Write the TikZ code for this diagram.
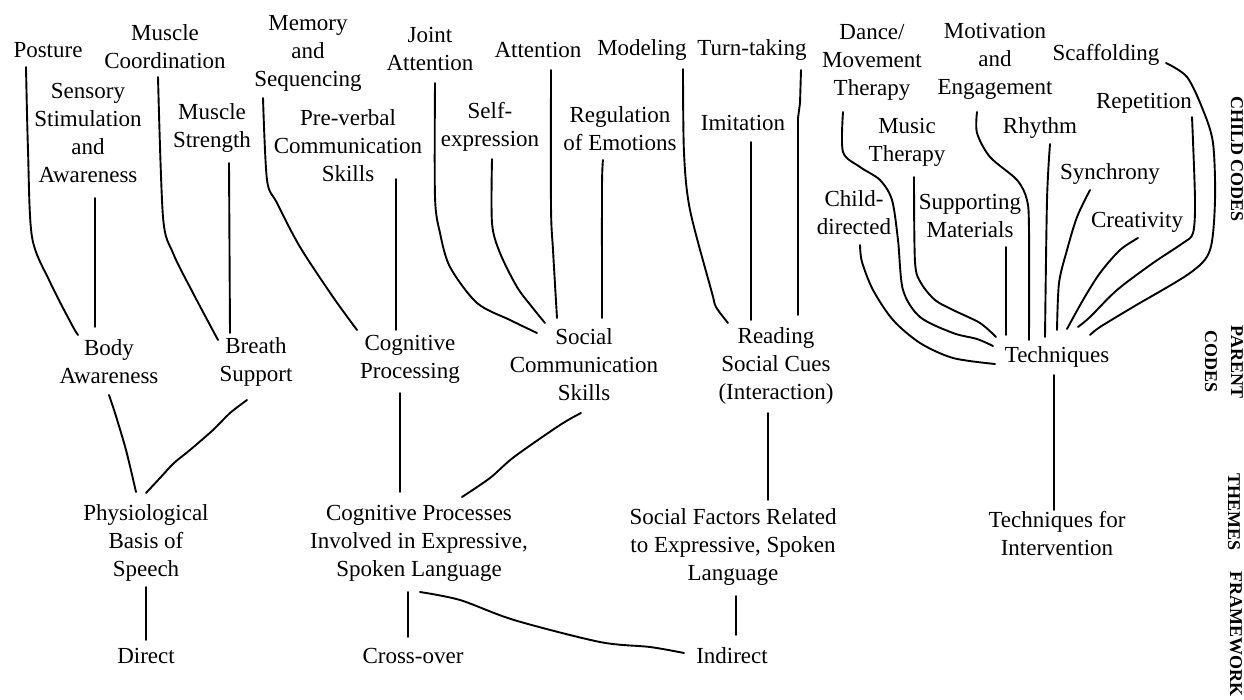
\documentclass[tikz,border=0pt]{standalone}
\usepackage{fontspec}
\setmainfont{Liberation Serif}
\newcommand\lblfont{\fontsize{23}{28}\selectfont}
\newcommand\sidefont{\fontsize{18}{26}\selectfont\bfseries}
\tikzset{
  lbl/.style={align=center, font=\lblfont, inner sep=0pt},
  side/.style={align=center, font=\sidefont, inner sep=0pt, rotate=-90},
  conn/.style={line width=1.9pt, line cap=round, line join=round},
}
\begin{document}
\begin{tikzpicture}[x=1pt,y=-1pt]
\useasboundingbox (0,0) rectangle (1244,700);
% ---------- child codes ----------
\node[lbl] (posture) at (48,50) {Posture};
\node[lbl] (mcoord) at (165,47) {Muscle\\Coordination};
\node[lbl] (sensory) at (88,133) {Sensory\\Stimulation\\and\\Awareness};
\node[lbl] (mstrength) at (212,128) {Muscle\\Strength};
\node[lbl] (memory) at (308,53) {Memory\\and\\Sequencing};
\node[lbl] (preverbal) at (348,146) {Pre-verbal\\Communication\\Skills};
\node[lbl] (joint) at (430,49) {Joint\\Attention};
\node[lbl] (attention) at (538,50) {Attention};
\node[lbl] (selfexp) at (490,127) {Self-\\expression};
\node[lbl] (regulation) at (620,129) {Regulation\\of Emotions};
\node[lbl] (modeling) at (642,50) {Modeling};
\node[lbl] (turn) at (752,50) {Turn-taking};
\node[lbl] (imitation) at (743,123) {Imitation};
\node[lbl] (dance) at (872,62) {Dance/\\Movement\\Therapy};
\node[lbl] (music) at (907,142) {Music\\Therapy};
\node[lbl] (childdir) at (854,213) {Child-\\directed};
\node[lbl] (supporting) at (970,216) {Supporting\\Materials};
\node[lbl] (motivation) at (995,61) {Motivation\\and\\Engagement};
\node[lbl] (rhythm) at (1040,128) {Rhythm};
\node[lbl] (synchrony) at (1110,174) {Synchrony};
\node[lbl] (creativity) at (1137,222) {Creativity};
\node[lbl] (repetition) at (1144,103) {Repetition};
\node[lbl] (scaffolding) at (1106,55) {Scaffolding};
% ---------- parent codes ----------
\node[lbl] (body) at (109,362) {Body\\Awareness};
\node[lbl] (breath) at (256,362) {Breath\\Support};
\node[lbl] (cogproc) at (410,359) {Cognitive\\Processing};
\node[lbl] (social) at (584,365) {Social\\Communication\\Skills};
\node[lbl] (reading) at (776,366) {Reading\\Social Cues\\(Interaction)};
\node[lbl] (techniques) at (1057,357) {Techniques};
% ---------- themes ----------
\node[lbl] (physio) at (146,543) {Physiological\\Basis of\\Speech};
\node[lbl] (cogthemes) at (419,543) {Cognitive Processes\\Involved in Expressive,\\Spoken Language};
\node[lbl] (socfac) at (733,547) {Social Factors Related\\to Expressive, Spoken\\Language};
\node[lbl] (techint) at (1057,534) {Techniques for\\Intervention};
% ---------- framework ----------
\node[lbl] (direct) at (146,656) {Direct};
\node[lbl] (crossover) at (413,656) {Cross-over};
\node[lbl] (indirect) at (732,656) {Indirect};
% ---------- side labels ----------
\node[side] (lchild) at (1237,159) {CHILD CODES};
\node[side] (lparent) at (1224,362) {PARENT\\CODES};
\node[side] (lthemes) at (1234,512) {THEMES};
\node[side] (lframe) at (1236,634) {FRAMEWORK};
% ---------- connector end points ----------
\coordinate (posture-e) at (26,67);   \coordinate (body-1) at (78,335);
\coordinate (sensory-e) at (95,198);  \coordinate (body-2) at (95,327);
\coordinate (mcoord-e) at (158,77);   \coordinate (breath-1) at (218,340);
\coordinate (mstrength-e) at (229,163); \coordinate (breath-2) at (230,333);
\coordinate (memory-e) at (263,98);   \coordinate (cogproc-1) at (357,330);
\coordinate (preverbal-e) at (396,179); \coordinate (cogproc-2) at (396,330);
\coordinate (joint-e) at (435,83);    \coordinate (social-1) at (537,333);
\coordinate (selfexp-e) at (492,159); \coordinate (social-2) at (545,323);
\coordinate (attention-e) at (551,70); \coordinate (social-3) at (557,318);
\coordinate (regulation-e) at (603,160); \coordinate (social-4) at (602,318);
\coordinate (modeling-e) at (683,69); \coordinate (reading-1) at (728,323);
\coordinate (imitation-e) at (751,142); \coordinate (reading-2) at (751,320);
\coordinate (turn-e) at (801,70);     \coordinate (reading-3) at (798,315);
\coordinate (childdir-e) at (860,245); \coordinate (tech-1) at (995,364);
\coordinate (dance-e) at (843,112);   \coordinate (tech-2) at (993,346);
\coordinate (music-e) at (914,177);   \coordinate (tech-3) at (996,337);
\coordinate (supporting-e) at (1006,247); \coordinate (tech-4) at (1006,335);
\coordinate (motivation-e) at (977,112); \coordinate (tech-5) at (1029,340);
\coordinate (rhythm-e) at (1050,144); \coordinate (tech-6) at (1045,337);
\coordinate (synchrony-e) at (1090,190); \coordinate (tech-7) at (1057,330);
\coordinate (creativity-e) at (1138,238); \coordinate (tech-8) at (1067,329);
\coordinate (repetition-e) at (1192,117); \coordinate (tech-9) at (1078,327);
\coordinate (scaffolding-e) at (1166,63); \coordinate (tech-10) at (1090,335);
\coordinate (body-s) at (109,395);    \coordinate (physio-1) at (136,492);
\coordinate (breath-s) at (247,400);  \coordinate (physio-2) at (146,493);
\coordinate (cogproc-s) at (400,393); \coordinate (cogthemes-1) at (400,492);
\coordinate (social-s) at (581,413);  \coordinate (cogthemes-2) at (462,497);
\coordinate (reading-s) at (768,413); \coordinate (socfac-n) at (768,500);
\coordinate (techniques-s) at (1054,375); \coordinate (techint-n) at (1054,510);
\coordinate (physio-s) at (146,587);  \coordinate (direct-n) at (146,640);
\coordinate (cogthemes-s1) at (408,592); \coordinate (crossover-n) at (408,637);
\coordinate (cogthemes-s2) at (420,592); \coordinate (indirect-w) at (684,653);
\coordinate (socfac-s) at (736,596);  \coordinate (indirect-n) at (736,635);
% ---------- child -> parent ----------
\draw[conn] plot[smooth,tension=.5] coordinates {(posture-e) (28,150) (32,237) (50,282) (72,325) (body-1)};
\draw[conn] (sensory-e) -- (body-2);
\draw[conn] plot[smooth,tension=.5] coordinates {(mcoord-e) (163,217) (173,253) (193,293) (breath-1)};
\draw[conn] (mstrength-e) -- (breath-2);
\draw[conn] plot[smooth,tension=.5] coordinates {(memory-e) (267,180) (277,203) (300,247) (333,297) (cogproc-1)};
\draw[conn] (preverbal-e) -- (cogproc-2);
\draw[conn] plot[smooth,tension=.5] coordinates {(joint-e) (435,197) (440,233) (450,267) (477,303) (510,320) (social-1)};
\draw[conn] plot[smooth,tension=.5] coordinates {(selfexp-e) (492,223) (500,253) (517,287) (532,307) (social-2)};
\draw[conn] plot[smooth,tension=.5] coordinates {(attention-e) (551,207) (553,250) (social-3)};
\draw[conn] plot[smooth,tension=.5] coordinates {(regulation-e) (602,187) (social-4)};
\draw[conn] plot[smooth,tension=.5] coordinates {(modeling-e) (684,153) (690,210) (712,293) (716,307) (reading-1)};
\draw[conn] (imitation-e) -- (reading-2);
\draw[conn] (turn-e) -- (800,103) -- (798,118) -- (reading-3);
\draw[conn] plot[smooth,tension=.5] coordinates {(childdir-e) (862,262) (873,290) (893,320) (920,343) (953,358) (tech-1)};
\draw[conn] plot[smooth,tension=.5] coordinates {(dance-e) (843,152) (860,167) (880,180) (892,200) (898,240) (903,290) (920,317) (953,333) (977,339) (tech-2)};
\draw[conn] plot[smooth,tension=.5] coordinates {(music-e) (915,262) (921,283) (935,300) (953,310) (980,323) (tech-3)};
\draw[conn] (supporting-e) -- (tech-4);
\draw[conn] plot[smooth,tension=.5] coordinates {(motivation-e) (977,133) (990,157) (1017,180) (1027,200) (1029,230) (tech-5)};
\draw[conn] plot[smooth,tension=.5] coordinates {(rhythm-e) (1047,200) (tech-6)};
\draw[conn] plot[smooth,tension=.5] coordinates {(synchrony-e) (1077,217) (1067,250) (1059,283) (tech-7)};
\draw[conn] plot[smooth,tension=.5] coordinates {(creativity-e) (1120,250) (1100,273) (1083,300) (tech-8)};
\draw[conn] plot[smooth,tension=.5] coordinates {(repetition-e) (1195,200) (1193,233) (1183,243) (1153,263) (1117,290) (1090,317) (tech-9)};
\draw[conn] plot[smooth,tension=.5] coordinates {(scaffolding-e) (1187,77) (1203,110) (1213,143) (1215,200) (1210,250) (1190,273) (1133,307) (1100,327) (tech-10)};
% ---------- parent -> theme ----------
\draw[conn] plot[smooth,tension=.5] coordinates {(body-s) (115,413) (126,450) (physio-1)};
\draw[conn] plot[smooth,tension=.5] coordinates {(breath-s) (230,413) (213,430) (190,450) (174,463) (160,478) (physio-2)};
\draw[conn] (cogproc-s) -- (cogthemes-1);
\draw[conn] plot[smooth,tension=.5] coordinates {(social-s) (560,425) (514,457) (490,478) (cogthemes-2)};
\draw[conn] (reading-s) -- (socfac-n);
\draw[conn] (techniques-s) -- (techint-n);
% ---------- theme -> framework ----------
\draw[conn] (physio-s) -- (direct-n);
\draw[conn] (cogthemes-s1) -- (crossover-n);
\draw[conn] plot[smooth,tension=.5] coordinates {(cogthemes-s2) (460,600) (514,620) (600,642) (650,647) (indirect-w)};
\draw[conn] (socfac-s) -- (indirect-n);
\end{tikzpicture}
\end{document}
